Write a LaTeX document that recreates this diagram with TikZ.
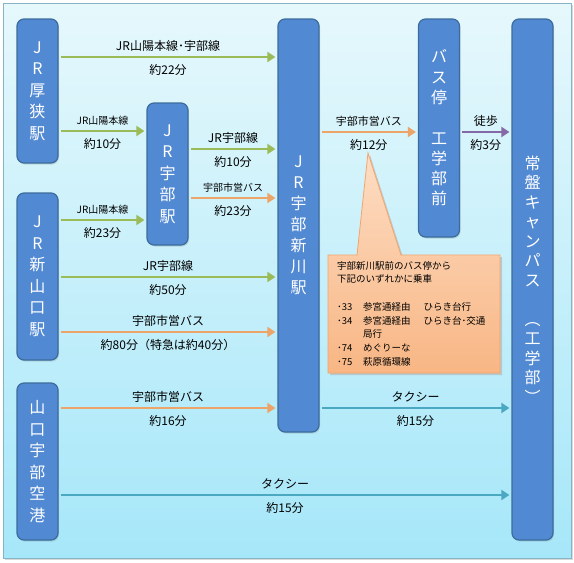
\documentclass[tikz,border=0pt]{standalone}
\usepackage{fontspec}
\setmainfont{Noto Sans CJK JP}
\usetikzlibrary{arrows.meta,positioning,calc,shadows}
\definecolor{boxblue}{HTML}{5289D3}
\definecolor{boxline}{HTML}{3B6C9C}
\definecolor{jrgreen}{HTML}{9BBB59}
\definecolor{busorange}{HTML}{EDA468}
\definecolor{taxiteal}{HTML}{4BA8C2}
\definecolor{walkpurple}{HTML}{8468A8}
\definecolor{bgtop}{HTML}{E6F8FC}
\definecolor{bgbot}{HTML}{A6E7F9}
\definecolor{frameline}{HTML}{86B4C4}
\definecolor{notetop}{HTML}{FDDDC4}
\definecolor{notebot}{HTML}{F8B684}
\definecolor{noteline}{HTML}{F3A56C}

\begin{document}
\begin{tikzpicture}[x=1pt, y=-1pt,
  stn/.style={draw=boxline, line width=1.2pt, fill=boxblue, rounded corners=7pt,
    minimum width=41pt, inner sep=0pt, text=white, align=center,
    drop shadow={shadow xshift=1pt, shadow yshift=-1.5pt, opacity=0.25}},
  vt/.style={font=\fontsize{16}{#1}\selectfont},
  ar/.style={line width=2.8pt, -{Triangle[length=8pt,width=10pt]}, shorten <=2pt, shorten >=2pt},
  grn/.style={ar, draw=jrgreen, color=jrgreen},
  org/.style={ar, draw=busorange, color=busorange},
  tea/.style={ar, draw=taxiteal, color=taxiteal},
  pur/.style={ar, draw=walkpurple, color=walkpurple},
  up/.style={above=3.5pt, inner sep=1pt, text=black, font=\fontsize{12}{12}\selectfont},
  upsm/.style={up, font=\fontsize{10}{10}\selectfont},
  dn/.style={below=5pt, inner sep=1pt, text=black, font=\fontsize{12}{12}\selectfont}]
\useasboundingbox[fill=white] (0,0) rectangle (574,563);
% background panel
\fill[black!15] (5,5) rectangle (573,560);
\shade[top color=bgtop, bottom color=bgbot] (3,3) rectangle (571,558);
\draw[frameline, line width=0.8pt] (3,3) rectangle (571,558);

% stations
\node[stn, vt=21.5, minimum height=144pt] (asa) at (37.5,91) {J\\R\\厚\\狭\\駅};
\node[stn, vt=21.5, minimum height=142pt] (ube) at (167.5,174) {J\\R\\宇\\部\\駅};
\node[stn, vt=21.5, minimum height=167pt] (shinyama) at (37.5,276.5) {J\\R\\新\\山\\口\\駅};
\node[stn, vt=21.5, minimum height=157pt] (airport) at (37.5,461.5) {山\\口\\宇\\部\\空\\港};
\node[stn, vt=21, minimum height=413pt] (shinkawa) at (298.5,225.5) {J\\R\\宇\\部\\新\\川\\駅};
\node[stn, vt=20.3, minimum height=218pt] (busstop) at (439,128) {バ\\ス\\停\\[20.3pt]工\\学\\部\\前};
\node[stn, vt=19.5, minimum height=521pt] (tokiwa) at (532.5,279.5)
  {常\\盤\\キ\\ャ\\ン\\パ\\ス\\[19.5pt]︵\\工\\学\\部\\︶};

% connections
\draw[grn] (asa.east |- 0,57) -- node[up]{JR山陽本線･宇部線} node[dn]{約22分} (shinkawa.west |- 0,57);
\draw[grn] (asa.east |- 0,131) -- node[upsm]{JR山陽本線} node[dn]{約10分} (ube.west |- 0,131);
\draw[grn] (ube.east |- 0,149) -- node[up]{JR宇部線} node[dn]{約10分} (shinkawa.west |- 0,149);
\draw[org] (ube.east |- 0,198) -- node[upsm]{宇部市営バス} node[dn]{約23分} (shinkawa.west |- 0,198);
\draw[grn] (shinyama.east |- 0,220) -- node[upsm]{JR山陽本線} node[dn]{約23分} (ube.west |- 0,220);
\draw[grn] (shinyama.east |- 0,277) -- node[up]{JR宇部線} node[dn]{約50分} (shinkawa.west |- 0,277);
\draw[org] (shinyama.east |- 0,332) -- node[up]{宇部市営バス} node[dn]{約80分（特急は約40分）} (shinkawa.west |- 0,332);
\draw[org] (shinkawa.east |- 0,132) -- node[up, font=\fontsize{11}{11}\selectfont]{宇部市営バス} node[dn]{約12分} (busstop.west |- 0,132);
\draw[pur] (busstop.east |- 0,132) -- node[up]{徒歩} node[dn]{約3分} (tokiwa.west |- 0,132);
\draw[org] (airport.east |- 0,408) -- node[up]{宇部市営バス} node[dn]{約16分} (shinkawa.west |- 0,408);
\draw[tea] (shinkawa.east |- 0,408) -- node[up]{タクシー} node[dn]{約15分} (tokiwa.west |- 0,408);
\draw[tea] (airport.east |- 0,495) -- node[up]{タクシー} node[dn]{約15分} (tokiwa.west |- 0,495);

% callout
\coordinate (tip) at (368,153);
\fill[black!30, opacity=0.6] (330,257) -- (359,257) -- ($(tip)+(2,2)$) -- (403,257) -- (502,257) -- (502,375) -- (330,375) -- cycle;
\shadedraw[top color=notetop, bottom color=notebot, draw=noteline, line width=0.8pt]
  (328,255) -- (357,255) -- (tip) -- (401,255) -- (500,255) -- (500,373) -- (328,373) -- cycle;
\node[anchor=north west, align=left, inner sep=0pt, font=\fontsize{9.5}{13.7}\selectfont] (note) at (337,261)
  {宇部新川駅前のバス停から\\
   下記のいずれかに乗車\\
   \mbox{}\\
   \makebox[26pt][l]{･33}参宮通経由\hspace{13pt}ひらき台行\\
   \makebox[26pt][l]{･34}参宮通経由\hspace{13pt}ひらき台･交通\\
   \hspace*{26pt}局行\\
   \makebox[26pt][l]{･74}めぐりーな\\
   \makebox[26pt][l]{･75}萩原循環線};
\end{tikzpicture}
\end{document}
